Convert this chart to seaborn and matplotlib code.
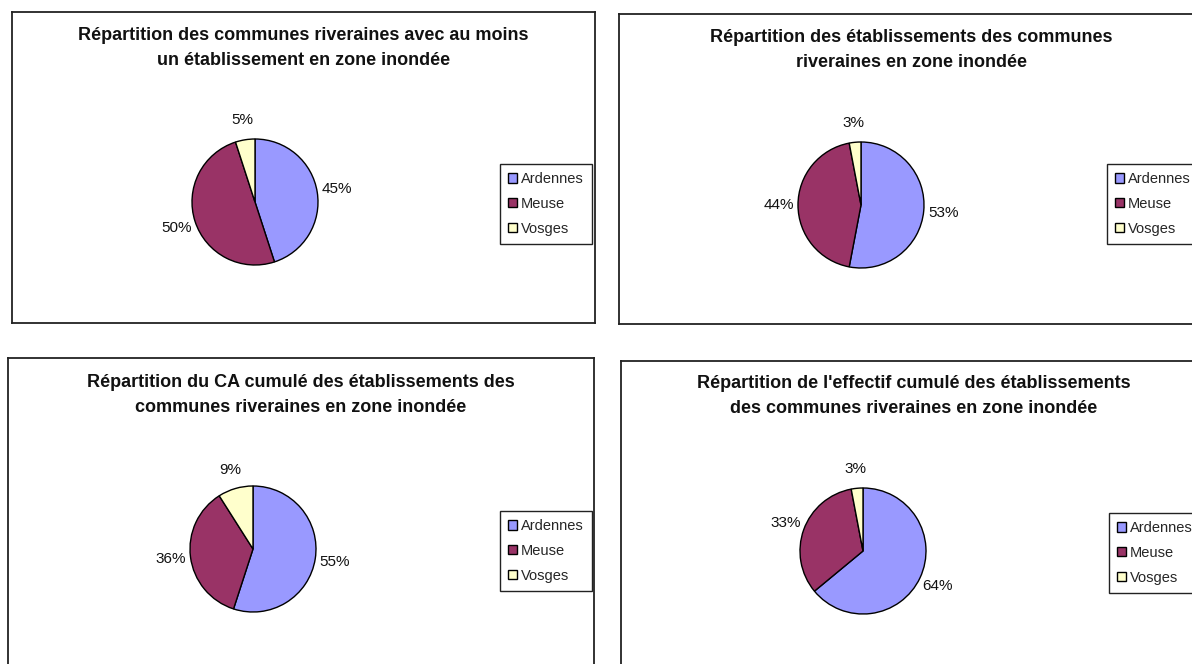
import matplotlib
matplotlib.use("Agg")
import matplotlib.pyplot as plt
import seaborn as sns

# ---- data ----
categories = ["Ardennes", "Meuse", "Vosges"]
titles = [
    "Répartition des communes riveraines avec au moins\nun établissement en zone inondée",
    "Répartition des établissements des communes\nriveraines en zone inondée",
    "Répartition du CA cumulé des établissements des\ncommunes riveraines en zone inondée",
    "Répartition de l'effectif cumulé des établissements\ndes communes riveraines en zone inondée",
]
communes = [45, 50, 5]
etablissements = [53, 44, 3]
ca_cumule = [55, 36, 9]
effectif_cumule = [64, 33, 3]
series = [communes, etablissements, ca_cumule, effectif_cumule]

# ---- style ----
sns.set_theme(style="white")
plt.rcParams["font.family"] = ["Liberation Sans", "DejaVu Sans"]
colors = sns.color_palette(["#9999FF", "#993366", "#FFFFCC"])

W, H = 1192, 664
fig = plt.figure(figsize=(W / 100, H / 100), dpi=100)

# panel layout in image pixels: box (x0, y0, x1, y1), pie center, title y, legend top-left
panels = [
    dict(box=(12, 12, 595, 323), center=(255, 202), title_y=48, legend=(500, 164)),
    dict(box=(619, 14, 1203, 324), center=(861, 205), title_y=50, legend=(1107, 164)),
    dict(box=(8, 358, 594, 700), center=(253, 549), title_y=395, legend=(500, 511)),
    dict(box=(621, 361, 1207, 700), center=(863, 551), title_y=396, legend=(1109, 513)),
]

for p, vals, title in zip(panels, series, titles):
    x0, y0, x1, y1 = p["box"]
    w, h = x1 - x0, y1 - y0
    ax = fig.add_axes([x0 / W, 1 - y1 / H, w / W, h / H])
    cx, cy = p["center"]
    wedges, texts, autotexts = ax.pie(
        vals,
        colors=colors,
        startangle=90,
        counterclock=False,
        radius=63,
        center=(cx - x0, y1 - cy),
        autopct=lambda v: f"{round(v)}%",
        pctdistance=1.31,
        frame=True,
        wedgeprops=dict(edgecolor="black", linewidth=1),
        textprops=dict(fontsize=11, color="#111111"),
    )
    ax.set_xlim(0, w)
    ax.set_ylim(0, h)
    ax.set_aspect("auto")
    ax.set_xticks([])
    ax.set_yticks([])
    for s in ax.spines.values():
        s.set_visible(True)
        s.set_color("#222222")
        s.set_linewidth(1.3)
    ax.text(w / 2, y1 - p["title_y"], title, ha="center", va="center",
            fontsize=13, fontweight="bold", linespacing=1.6, color="#111111")
    lx, ly = p["legend"]
    leg = ax.legend(wedges, categories, loc="upper left",
                    bbox_to_anchor=(lx / W, 1 - ly / H), bbox_transform=fig.transFigure,
                    borderaxespad=0, fancybox=False, frameon=True,
                    fontsize=10.5, handlelength=0.6, handleheight=0.6,
                    handletextpad=0.3, labelspacing=0.75, borderpad=0.55)
    frame = leg.get_frame()
    frame.set_edgecolor("#222222")
    frame.set_linewidth(1.0)
    frame.set_facecolor("white")
    frame.set_alpha(1)

fig.savefig("out.png", dpi=100)
